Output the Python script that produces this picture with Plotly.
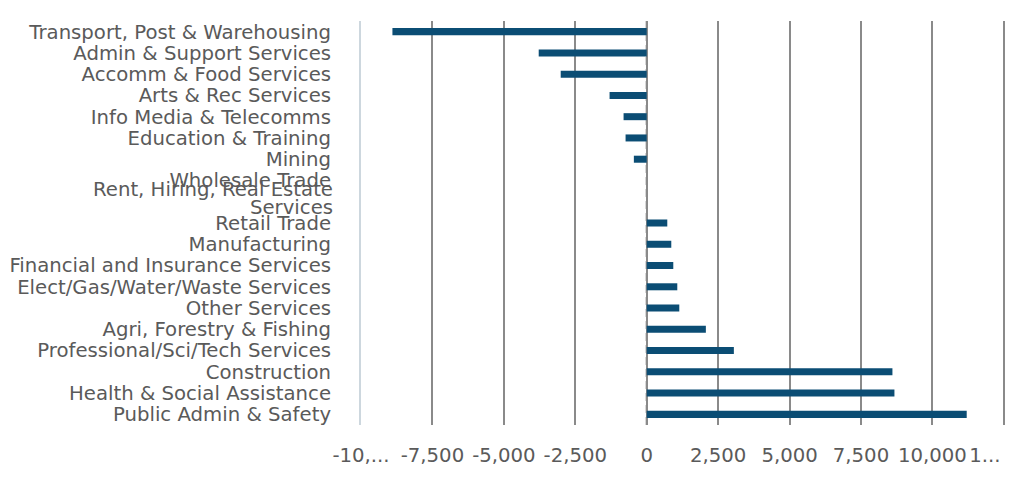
import plotly.graph_objects as go

categories = [
    "Transport, Post & Warehousing",
    "Admin & Support Services",
    "Accomm & Food Services",
    "Arts & Rec Services",
    "Info Media & Telecomms",
    "Education & Training",
    "Mining",
    "Wholesale Trade",
    "Rent, Hiring, Real Estate Services",
    "Retail Trade",
    "Manufacturing",
    "Financial and Insurance Services",
    "Elect/Gas/Water/Waste Services",
    "Other Services",
    "Agri, Forestry & Fishing",
    "Professional/Sci/Tech Services",
    "Construction",
    "Health & Social Assistance",
    "Public Admin & Safety",
]
values = [-8900, -3780, -3010, -1300, -810, -740, -450, 0, 0,
          720, 860, 930, 1070, 1140, 2070, 3050, 8600, 8670, 11200]

# the long label wraps onto two tightly spaced lines in the reference
wrapped_label = "Rent, Hiring, Real Estate Services"
wrapped_lines = ["Rent, Hiring, Real Estate", "Services"]

tick_vals = [-10000, -7500, -5000, -2500, 0, 2500, 5000, 7500, 10000, 12500]
tick_text = ["-10,...", "-7,500", "-5,000", "-2,500", "0", "2,500",
             "5,000", "7,500", "10,000", "1..."]

TEXT = "#5a5a5a"
FONT = "DejaVu Sans"
FSIZE = 19.7
X_RANGE = [-10000, 12540]

y_ticktext = ["" if c == wrapped_label else c for c in categories]

# main axis shows all labels but the last; the truncated last label sits on an
# overlay axis so it can be nudged left to fit inside the chart
main_text = tick_text[:-1] + [""]

fig = go.Figure(go.Bar(
    x=values, y=categories, orientation="h",
    marker=dict(color="#0b4d74", line=dict(width=0)),
    width=0.33,
))
fig.add_trace(go.Scatter(x=[], y=[], xaxis="x2", mode="markers",
                         showlegend=False, hoverinfo="skip"))

fig.add_shape(type="line", x0=0, x1=0, y0=0, y1=1, xref="x", yref="paper",
              line=dict(color="#7a7a7a", width=2, dash="8px,4px"), layer="below")

for line, shift in zip(wrapped_lines, [12, -6]):
    fig.add_annotation(
        text=line, xref="paper", x=0, yref="y", y=wrapped_label,
        xanchor="right", yanchor="middle", xshift=-26, yshift=shift,
        showarrow=False, font=dict(family=FONT, size=FSIZE, color=TEXT),
    )

tickfont = dict(family=FONT, size=FSIZE, color=TEXT)

fig.update_layout(
    width=1024, height=501,
    margin=dict(l=353, r=27, t=13, b=84),
    paper_bgcolor="white", plot_bgcolor="white",
    showlegend=False,
    font=dict(family=FONT, size=FSIZE, color=TEXT),
    xaxis=dict(
        range=X_RANGE,
        tickmode="array", tickvals=tick_vals, ticktext=main_text,
        showgrid=True, gridcolor="#8a8a8a", gridwidth=2,
        zeroline=False, showline=False,
        ticks="", ticklabelstandoff=16,
        tickfont=tickfont,
        automargin=False, fixedrange=True,
    ),
    xaxis2=dict(
        overlaying="x", side="bottom", anchor="y",
        range=X_RANGE,
        tickmode="array", tickvals=tick_vals[-1:], ticktext=tick_text[-1:],
        ticklabelshift=-19,
        showgrid=False, zeroline=False, showline=False,
        ticks="", ticklabelstandoff=16,
        tickfont=tickfont,
        automargin=False, fixedrange=True,
    ),
    yaxis=dict(
        categoryorder="array", categoryarray=categories,
        tickmode="array", tickvals=categories, ticktext=y_ticktext,
        range=[len(categories) - 0.5, -0.5],
        showgrid=False, zeroline=False,
        showline=True, linecolor="#cdd7de", linewidth=2,
        ticks="", ticklabelstandoff=24,
        tickfont=tickfont,
        automargin=False, fixedrange=True,
    ),
    bargap=0.67,
)

fig.write_html("out.html")
